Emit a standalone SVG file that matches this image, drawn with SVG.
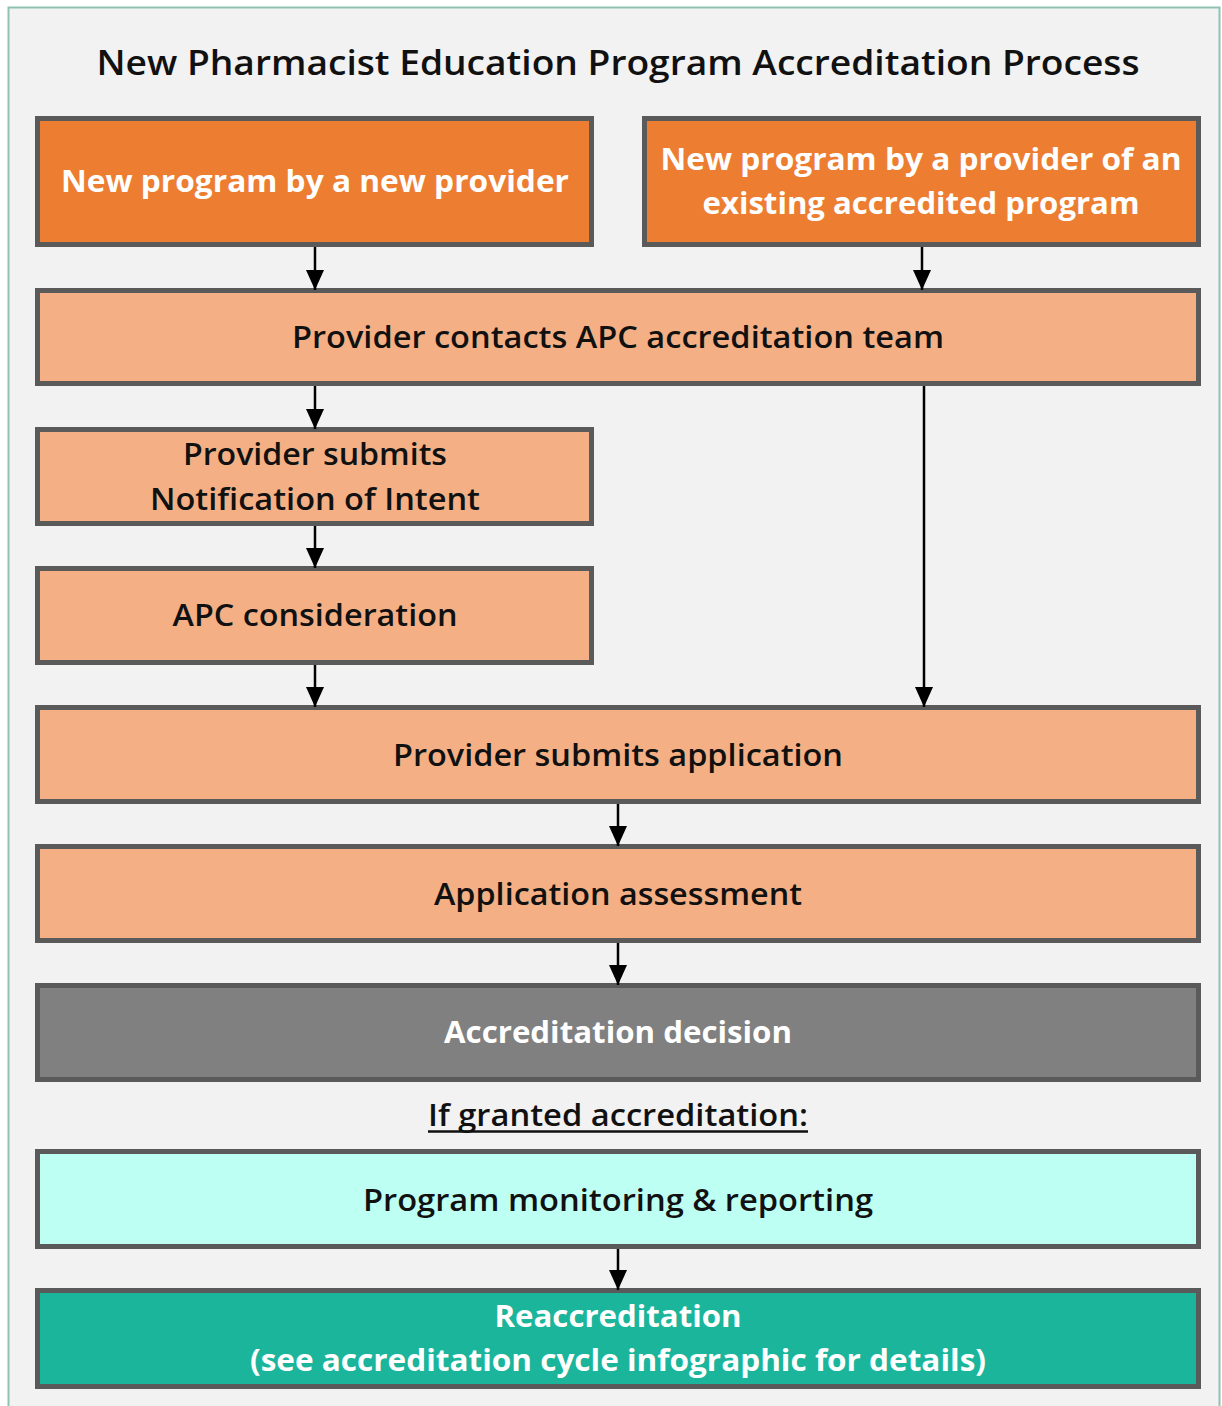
<svg xmlns="http://www.w3.org/2000/svg" width="1222" height="1406" viewBox="0 0 1222 1406">
  <defs>
    <marker id="arrow" viewBox="0 0 20 18" refX="20" refY="9" markerWidth="20" markerHeight="18" markerUnits="userSpaceOnUse" orient="auto">
      <path d="M0,0 L20,9 L0,18 Z" fill="#000"/>
    </marker>
    <style>
      .box { stroke: #5a5a5a; stroke-width: 5; }
      .orange { fill: #ed7d31; }
      .peach { fill: #f4b084; }
      .grey { fill: #808080; }
      .mint { fill: #bdfff3; }
      .teal { fill: #1ab59b; }
      .dark { font-family: "Open Sans", "Liberation Sans", sans-serif; font-size: 31px; font-weight: 600; fill: #111; text-anchor: middle; }
      .light { font-family: "Open Sans", "Liberation Sans", sans-serif; font-size: 31px; font-weight: 700; fill: #fff; text-anchor: middle; }
      .title { font-family: "Open Sans", "Liberation Sans", sans-serif; font-size: 35px; font-weight: 600; fill: #111; text-anchor: middle; }
      .conn { stroke: #000; stroke-width: 2.5; fill: none; marker-end: url(#arrow); }
    </style>
  </defs>

  <rect x="0" y="0" width="1222" height="1406" fill="#ffffff"/>
  <rect x="8.5" y="7.5" width="1211" height="1410" fill="#f2f2f2" stroke="#8fc3b0" stroke-width="2"/>

  <text class="title" x="618" y="75" textLength="1043" lengthAdjust="spacingAndGlyphs">New Pharmacist Education Program Accreditation Process</text>

  <g id="new-provider">
    <rect class="box orange" x="37.5" y="118.5" width="554" height="126"/>
    <text class="light" x="315" y="192" textLength="508" lengthAdjust="spacingAndGlyphs">New program by a new provider</text>
  </g>
  <g id="existing-provider">
    <rect class="box orange" x="644.5" y="118.5" width="554" height="126"/>
    <text class="light" x="921" y="170" textLength="521" lengthAdjust="spacingAndGlyphs">New program by a provider of an</text>
    <text class="light" x="921" y="214" textLength="437" lengthAdjust="spacingAndGlyphs">existing accredited program</text>
  </g>
  <g id="contact-team">
    <rect class="box peach" x="37.5" y="290.5" width="1161" height="93"/>
    <text class="dark" x="618" y="348" textLength="652" lengthAdjust="spacingAndGlyphs">Provider contacts APC accreditation team</text>
  </g>
  <g id="notification">
    <rect class="box peach" x="37.5" y="429.5" width="554" height="94"/>
    <text class="dark" x="315" y="465" textLength="264" lengthAdjust="spacingAndGlyphs">Provider submits</text>
    <text class="dark" x="315" y="510" textLength="330" lengthAdjust="spacingAndGlyphs">Notification of Intent</text>
  </g>
  <g id="apc-consideration">
    <rect class="box peach" x="37.5" y="568.5" width="554" height="94"/>
    <text class="dark" x="315" y="626" textLength="285" lengthAdjust="spacingAndGlyphs">APC consideration</text>
  </g>
  <g id="submit-application">
    <rect class="box peach" x="37.5" y="707.5" width="1161" height="94"/>
    <text class="dark" x="618" y="766" textLength="450" lengthAdjust="spacingAndGlyphs">Provider submits application</text>
  </g>
  <g id="assessment">
    <rect class="box peach" x="37.5" y="846.5" width="1161" height="94"/>
    <text class="dark" x="618" y="905" textLength="368" lengthAdjust="spacingAndGlyphs">Application assessment</text>
  </g>
  <g id="decision">
    <rect class="box grey" x="37.5" y="985.5" width="1161" height="94"/>
    <text class="light" x="618" y="1043" textLength="348" lengthAdjust="spacingAndGlyphs">Accreditation decision</text>
  </g>

  <g id="granted-label">
    <text class="dark" x="618" y="1126" textLength="380" lengthAdjust="spacingAndGlyphs">If granted accreditation:</text>
    <line x1="428" y1="1131.5" x2="808" y2="1131.5" stroke="#111" stroke-width="2.5"/>
  </g>

  <g id="monitoring">
    <rect class="box mint" x="37.5" y="1151.5" width="1161" height="95"/>
    <text class="dark" x="618" y="1211" textLength="510" lengthAdjust="spacingAndGlyphs">Program monitoring &amp; reporting</text>
  </g>
  <g id="reaccreditation">
    <rect class="box teal" x="37.5" y="1290.5" width="1161" height="96"/>
    <text class="light" x="618" y="1327" textLength="247" lengthAdjust="spacingAndGlyphs">Reaccreditation</text>
    <text class="light" x="618" y="1371" textLength="736" lengthAdjust="spacingAndGlyphs">(see accreditation cycle infographic for details)</text>
  </g>

  <g id="connectors">
    <line class="conn" x1="315" y1="247" x2="315" y2="290"/>
    <line class="conn" x1="922" y1="247" x2="922" y2="290"/>
    <line class="conn" x1="315" y1="386" x2="315" y2="429"/>
    <line class="conn" x1="924" y1="386" x2="924" y2="707"/>
    <line class="conn" x1="315" y1="526" x2="315" y2="568"/>
    <line class="conn" x1="315" y1="665" x2="315" y2="707"/>
    <line class="conn" x1="618" y1="804" x2="618" y2="846"/>
    <line class="conn" x1="618" y1="943" x2="618" y2="985"/>
    <line class="conn" x1="618" y1="1249" x2="618" y2="1290"/>
  </g>
</svg>
